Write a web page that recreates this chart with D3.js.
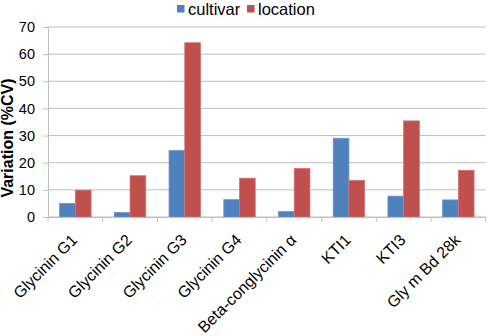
<!DOCTYPE html>
<html>
<head>
<meta charset="utf-8">
<script src="https://cdn.jsdelivr.net/npm/d3@7"></script>
<style>
  body { margin: 0; background: #fff; }
  svg text { font-family: "Liberation Sans", Arial, sans-serif; }
</style>
</head>
<body>
<div id="root"><svg width="490" height="336"></svg></div>
<script>
const categories = ['Glycinin G1', 'Glycinin G2', 'Glycinin G3', 'Glycinin G4', 'Beta-conglycinin α', 'KTI1', 'KTI3', 'Gly m Bd 28k'];
const seriesNames = ['cultivar', 'location'];
const cultivarValues = [5.0, 1.7, 24.5, 6.4, 2.0, 29.0, 7.7, 6.3];
const locationValues = [9.9, 15.2, 64.2, 14.3, 17.9, 13.5, 35.4, 17.2];
const yTicks = [0, 10, 20, 30, 40, 50, 60, 70];
const colors = ['#4f81bd', '#c0504d'];

function drawChart() {
  const left = 48;
  const top = 27;
  const width = 437.7;
  const height = 190;

  const svg = d3.select('#root svg');
  const g = svg.append('g').attr('transform', `translate(${left} ${top})`);

  const xScale = d3.scaleBand().domain(categories).range([0, width]).paddingInner(0.425).paddingOuter(0.2125);
  const xInner = d3.scaleBand().domain(seriesNames).range([0, xScale.bandwidth()]);
  const yScale = d3.scaleLinear().domain([0, 70]).range([height, 0]);

  // gridlines
  g.append('g')
    .selectAll('line')
    .data(yTicks)
    .enter()
    .append('line')
    .attr('x1', 0)
    .attr('x2', width)
    .attr('y1', (d) => yScale(d))
    .attr('y2', (d) => yScale(d))
    .attr('stroke', '#bfbfbf')
    .attr('stroke-width', 1);

  const yAxis = d3.axisLeft(yScale).tickValues(yTicks).tickSize(5).tickSizeOuter(0).tickPadding(8);
  const yG = g.append('g').call(yAxis);
  yG.select('.domain').attr('stroke', '#bfbfbf');
  yG.selectAll('.tick line').attr('stroke', '#bfbfbf');
  yG.selectAll('text').attr('font-size', '14.5px').attr('fill', '#000');

  // bars
  const data = categories.map((c, i) => ({ cat: c, values: [cultivarValues[i], locationValues[i]] }));
  const groups = g.selectAll('g.col').data(data).enter()
    .append('g')
    .attr('class', 'col')
    .attr('transform', (d) => `translate(${xScale(d.cat)} 0)`);
  groups.selectAll('rect')
    .data((d) => d.values.map((v, i) => ({ name: seriesNames[i], v: v, i: i })))
    .enter()
    .append('rect')
    .attr('x', (d) => xInner(d.name))
    .attr('y', (d) => yScale(d.v))
    .attr('width', xInner.bandwidth())
    .attr('height', (d) => height - yScale(d.v))
    .attr('fill', (d) => colors[d.i])
    .attr('stroke', (d) => (d.i === 0 ? '#6f97cb' : '#d27270'))
    .attr('stroke-width', 0.8);

  // x axis
  const xAxis = d3.axisBottom(xScale).tickSize(0).tickFormat('');
  const xG = g.append('g').attr('transform', `translate(0 ${height})`).call(xAxis);
  xG.select('.domain').attr('stroke', '#bfbfbf');
  const step = xScale.step();
  xG.selectAll('line.sep')
    .data(d3.range(categories.length + 1))
    .enter()
    .append('line')
    .attr('class', 'sep')
    .attr('x1', (d) => d * step)
    .attr('x2', (d) => d * step)
    .attr('y1', 0)
    .attr('y2', 5)
    .attr('stroke', '#bfbfbf');

  g.append('g')
    .selectAll('text')
    .data(categories)
    .enter()
    .append('text')
    .attr('transform', (d) => `translate(${xScale(d) + xScale.bandwidth() / 2 + 3} ${height + 24}) rotate(-45)`)
    .attr('text-anchor', 'end')
    .attr('font-size', '16px')
    .attr('fill', '#000')
    .text((d) => d);

  // y title
  svg.append('text')
    .attr('transform', `translate(13 ${top + height / 2 + 16}) rotate(-90)`)
    .attr('text-anchor', 'middle')
    .attr('font-size', '16px')
    .attr('font-weight', 'bold')
    .text('Variation (%CV)');

  // legend
  const legendX = [177, 247];
  const legend = svg.append('g');
  seriesNames.forEach((name, i) => {
    legend.append('rect')
      .attr('x', legendX[i])
      .attr('y', 5)
      .attr('width', 7.5)
      .attr('height', 7.5)
      .attr('fill', colors[i]);
    legend.append('text')
      .attr('x', legendX[i] + 11)
      .attr('y', 15)
      .attr('font-size', '16.5px')
      .text(name);
  });
}

window.addEventListener('load', function() {
  drawChart();
});
</script>
</body>
</html>
